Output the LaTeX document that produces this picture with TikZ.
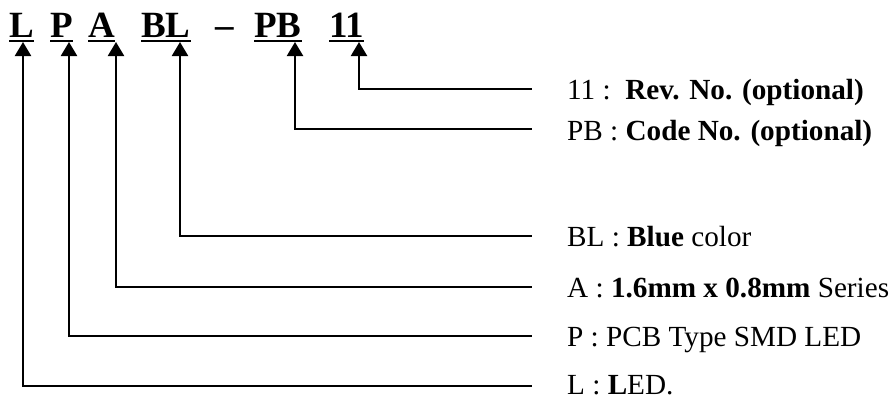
\documentclass[tikz,border=0pt]{standalone}
\usepackage{fontspec}
\setmainfont{Liberation Serif}
\usetikzlibrary{arrows.meta}
\begin{document}
\begin{tikzpicture}[x=1pt,y=-1pt,
  code/.style={font=\fontsize{37}{37}\selectfont\bfseries, inner sep=0pt, anchor=base west},
  lab/.style={font=\fontsize{29.2}{30}\selectfont, inner sep=0pt, anchor=base west},
  uline/.style={line width=2pt},
  conn/.style={line width=2.2pt, {Triangle[length=14pt,width=16pt]}-}]
\useasboundingbox (0,0) rectangle (892,399);
% top code letters
\node[code] (cL)  at (9,37)   {L};
\node[code] (cP)  at (50,37)  {P};
\node[code] (cA)  at (88,37)  {A};
\node[code] (cBL) at (141,37) {BL};
\node[code] (cD)  at (215,37) {\textendash};
\node[code] (cPB) at (254,37) {PB};
\node[code] (c11) at (329,37) {11};
% underlines
\foreach \n in {cL,cP,cA,cBL,cPB,c11}
  \draw[uline] (\n.base west) ++(0,4) -- ([yshift=-4pt]\n.base east);
% arrow tips
\coordinate (tL)  at (23,42);
\coordinate (tP)  at (69,42);
\coordinate (tA)  at (116,42);
\coordinate (tBL) at (180,42);
\coordinate (tPB) at (295,42);
\coordinate (t11) at (359,42);
% labels
\node[lab] (l11) at (567,99)  {11 :\ \ \textbf{Rev. No. (optional)}};
\node[lab] (lPB) at (567,140) {PB : \textbf{Code No. (optional)}};
\node[lab] (lBL) at (567,246) {BL : \textbf{Blue} color};
\node[lab] (lA)  at (567,297) {A : \textbf{1.6mm x 0.8mm} Series};
\node[lab] (lP)  at (567,346) {P : PCB Type SMD LED};
\node[lab] (lL)  at (567,394) {L : \textbf{L}ED.};
% connectors
\coordinate (e11) at (532,89);
\coordinate (ePB) at (532,129);
\coordinate (eBL) at (532,236);
\coordinate (eA)  at (532,287);
\coordinate (eP)  at (532,336);
\coordinate (eL)  at (532,386);
\draw[conn] (t11) |- (e11);
\draw[conn] (tPB) |- (ePB);
\draw[conn] (tBL) |- (eBL);
\draw[conn] (tA)  |- (eA);
\draw[conn] (tP)  |- (eP);
\draw[conn] (tL)  |- (eL);
\end{tikzpicture}
\end{document}
